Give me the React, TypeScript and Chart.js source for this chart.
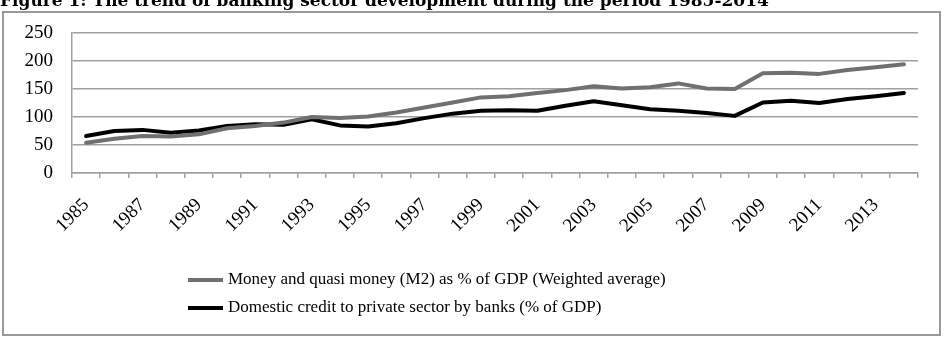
import { useEffect, useRef } from "react";
import { Chart, registerables } from "chart.js";

Chart.register(...registerables);

const years = [
  "1985", "1986", "1987", "1988", "1989", "1990", "1991", "1992", "1993", "1994",
  "1995", "1996", "1997", "1998", "1999", "2000", "2001", "2002", "2003", "2004",
  "2005", "2006", "2007", "2008", "2009", "2010", "2011", "2012", "2013", "2014",
];

// Money and quasi money (M2), % of GDP
const m2Share = [
  54, 61, 66, 65, 69, 80, 84, 90, 100, 98,
  101, 108, 117, 126, 135, 137, 143, 148, 155, 151,
  153, 160, 151, 150, 178, 179, 177, 184, 189, 194,
];

// Domestic credit to private sector by banks, % of GDP
const privateCredit = [
  66, 75, 77, 72, 76, 84, 87, 86, 96, 85,
  83, 89, 98, 106, 111, 112, 111, 120, 128, 121,
  114, 111, 107, 102, 126, 129, 125, 132, 137, 143,
];

const seriesLabels = [
  "Money and quasi money (M2) as % of GDP (Weighted average)",
  "Domestic credit to private sector by banks (% of GDP)",
];
const seriesColors = ["#707070", "#000000"];

const titleText =
  "Figure 1: The trend of banking sector development during the period 1985-2014";

const SERIF = '"Liberation Serif", "Times New Roman", serif';

const framePlugin = {
  id: "frame",
  beforeDraw(chart: any) {
    const { ctx, width, height } = chart;
    ctx.save();
    ctx.fillStyle = "#ffffff";
    ctx.fillRect(0, 0, width, height);
    ctx.strokeStyle = "#999999";
    ctx.lineWidth = 2;
    ctx.strokeRect(3, 12, 937, 323);
    ctx.restore();
  },
  afterDraw(chart: any) {
    const { ctx } = chart;
    ctx.save();
    // figure caption along the top edge
    ctx.fillStyle = "#000000";
    ctx.font = 'bold 17px "DejaVu Serif", serif';
    ctx.textBaseline = "alphabetic";
    ctx.textAlign = "left";
    ctx.fillText(titleText, 0, 6);

    // legend: two stacked rows below the axis
    const rows = [280, 308];
    chart.data.datasets.forEach((ds: any, i: number) => {
      const y = rows[i];
      ctx.strokeStyle = ds.borderColor;
      ctx.lineWidth = 4;
      ctx.lineCap = "butt";
      ctx.beginPath();
      ctx.moveTo(188, y);
      ctx.lineTo(223, y);
      ctx.stroke();
      ctx.fillStyle = "#000000";
      ctx.font = `17px ${SERIF}`;
      ctx.textBaseline = "middle";
      ctx.fillText(ds.label, 228, y);
    });
    ctx.restore();
  },
};

export default function App() {
  const canvasRef = useRef<HTMLCanvasElement>(null);

  useEffect(() => {
    const chart = new Chart(canvasRef.current!, {
      type: "line",
      data: {
        labels: years,
        datasets: [
          {
            label: seriesLabels[0],
            data: m2Share,
            borderColor: seriesColors[0],
            borderWidth: 4,
            pointRadius: 0,
            tension: 0,
            borderJoinStyle: "round",
            borderCapStyle: "round",
            fill: false,
          },
          {
            label: seriesLabels[1],
            data: privateCredit,
            borderColor: seriesColors[1],
            borderWidth: 4,
            pointRadius: 0,
            tension: 0,
            borderJoinStyle: "round",
            borderCapStyle: "round",
            fill: false,
          },
        ],
      },
      options: {
        responsive: false,
        animation: false,
        devicePixelRatio: 1,
        layout: { padding: { top: 33, right: 28, left: 0, bottom: 0 } },
        plugins: {
          legend: { display: false },
          title: { display: false },
          tooltip: { enabled: false },
        },
        scales: {
          x: {
            type: "category",
            offset: true,
            grid: {
              offset: true,
              drawOnChartArea: false,
              drawTicks: true,
              tickLength: 5,
              color: "#a0a0a0",
              lineWidth: 1.5,
            },
            border: { display: true, color: "#a0a0a0", width: 1.5 },
            ticks: {
              autoSkip: false,
              minRotation: 45,
              maxRotation: 45,
              padding: 16,
              color: "#000000",
              font: { family: SERIF, size: 19 },
              callback: (_v: any, i: number) => (i % 2 === 0 ? years[i] : ""),
            },
            afterFit: (scale: any) => {
              scale.height = 165;
            },
          },
          y: {
            min: 0,
            max: 250,
            grid: { color: "#a0a0a0", lineWidth: 1.5, drawTicks: false },
            border: { display: true, color: "#a0a0a0", width: 1.5 },
            ticks: {
              stepSize: 50,
              padding: 19,
              color: "#000000",
              font: { family: SERIF, size: 19 },
            },
            afterFit: (scale: any) => {
              scale.width = 72;
            },
          },
        },
      },
      plugins: [framePlugin],
    });
    return () => chart.destroy();
  }, []);

  return (
    <div
      style={{
        position: "absolute",
        left: 0,
        top: 0,
        width: 946,
        height: 338,
        background: "#ffffff",
      }}
    >
      <canvas ref={canvasRef} width={946} height={338} style={{ display: "block" }} />
    </div>
  );
}
